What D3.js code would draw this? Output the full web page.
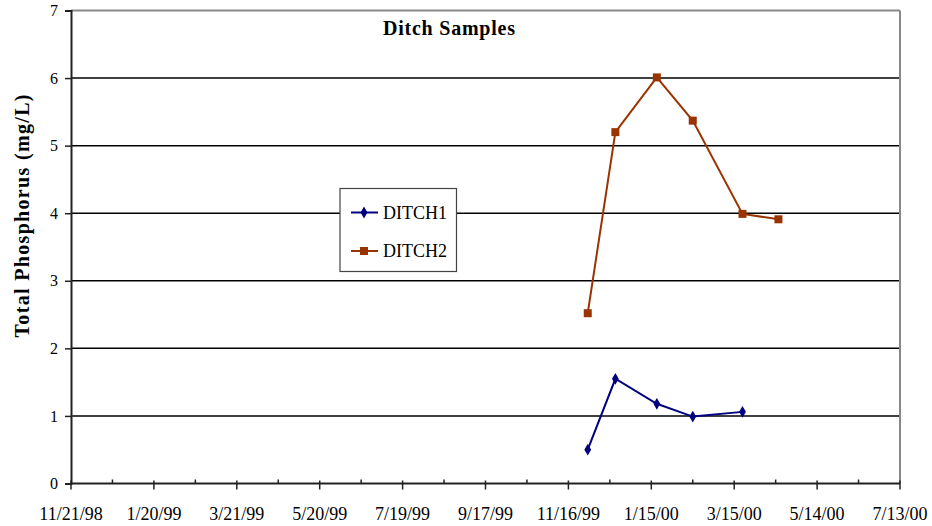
<!DOCTYPE html>
<html><head><meta charset="utf-8">
<script src="https://cdn.jsdelivr.net/npm/d3@7"></script>
<style>body{margin:0;background:#fff}svg{display:block}</style>
</head><body><svg id="c" width="932" height="526"></svg>
<script>
const title = "Ditch Samples";
const yTitle = "Total Phosphorus (mg/L)";
const seriesNames = ["DITCH1", "DITCH2"];
const ditch1Dates = ["1999-11-30","1999-12-20","2000-01-19","2000-02-14","2000-03-21"];
const ditch1Values = [0.50, 1.55, 1.18, 0.99, 1.06];
const ditch2Dates = ["1999-11-30","1999-12-20","2000-01-19","2000-02-14","2000-03-21","2000-04-16"];
const ditch2Values = [2.52, 5.20, 6.01, 5.37, 3.99, 3.91];
const xStart = "1998-11-21", xEnd = "2000-07-13";
const yTicks = [0,1,2,3,4,5,6,7];

const FONT = "'Liberation Serif', 'Times New Roman', Times, serif";
const parse = d3.utcParse("%Y-%m-%d");
const fmt = d => (d.getUTCMonth()+1) + "/" + d.getUTCDate() + "/" + String(d.getUTCFullYear()).slice(2);
const svg = d3.select("#c").style("font-family", FONT);
const L = 71, R = 900, T = 10.5, B = 483.5;
const x = d3.scaleUtc().domain([parse(xStart), parse(xEnd)]).range([L, R]);
const y = d3.scaleLinear().domain([0, 7]).range([B, T]);

// gridlines
svg.append("g").selectAll("line").data(yTicks.filter(v => v > 0 && v < 7)).join("line")
  .attr("x1", L).attr("x2", R).attr("y1", d => y(d)).attr("y2", d => y(d))
  .attr("stroke", "#000").attr("stroke-width", 1.5);
// top & right border
svg.append("line").attr("x1", L).attr("x2", R).attr("y1", y(7)).attr("y2", y(7)).attr("stroke", "#888").attr("stroke-width", 2);
svg.append("line").attr("x1", R).attr("x2", R).attr("y1", y(7)).attr("y2", B).attr("stroke", "#888").attr("stroke-width", 2);

// y axis
const yAx = svg.append("g").attr("transform", `translate(${L},0)`)
  .call(d3.axisLeft(y).tickValues(yTicks).tickSize(6).tickPadding(7).tickFormat(d3.format("d")));
yAx.attr("font-family", null).attr("font-size", null);
yAx.select(".domain").attr("stroke", "#222").attr("stroke-width", 2);
yAx.selectAll(".tick line").attr("stroke", "#222").attr("stroke-width", 1.5);
yAx.selectAll("text").attr("font-size", 16).attr("fill", "#000").style("font-family", FONT);

// x axis ticks every 30 days
const t0 = parse(xStart);
const allTicks = d3.range(0, 21).map(i => d3.utcDay.offset(t0, i * 30));
const majors = allTicks.filter((d, i) => i % 2 === 0);
const minors = allTicks.filter((d, i) => i % 2 === 1);
svg.append("line").attr("x1", L).attr("x2", R).attr("y1", B).attr("y2", B).attr("stroke", "#222").attr("stroke-width", 2);
svg.append("g").selectAll("line").data(majors).join("line")
  .attr("x1", d => x(d)).attr("x2", d => x(d)).attr("y1", B - 3).attr("y2", B + 6)
  .attr("stroke", "#222").attr("stroke-width", 1.5);
svg.append("g").selectAll("line").data(minors).join("line")
  .attr("x1", d => x(d)).attr("x2", d => x(d)).attr("y1", B - 4).attr("y2", B)
  .attr("stroke", "#222").attr("stroke-width", 1.5);
svg.append("g").selectAll("text").data(majors).join("text")
  .attr("x", d => x(d)).attr("y", 520).attr("text-anchor", "middle")
  .attr("font-size", 18).style("font-family", FONT).text(fmt);

// titles
svg.append("text").attr("x", 449).attr("y", 35).attr("text-anchor", "middle")
  .attr("font-size", 20).attr("font-weight", "bold").attr("textLength", 132).attr("lengthAdjust", "spacing")
  .style("font-family", FONT).text(title);
svg.append("text").attr("transform", "translate(29,216) rotate(-90)").attr("text-anchor", "middle")
  .attr("font-size", 20).attr("font-weight", "bold").attr("textLength", 243).attr("lengthAdjust", "spacing")
  .style("font-family", FONT).text(yTitle);

// series
const colors = ["#000080", "#993300"];
const s1 = ditch1Dates.map((d, i) => ({ d: parse(d), v: ditch1Values[i] }));
const s2 = ditch2Dates.map((d, i) => ({ d: parse(d), v: ditch2Values[i] }));
const line = d3.line().x(p => x(p.d)).y(p => y(p.v));
const diamond = d3.symbol().type(d3.symbolDiamond).size(40);
const square = d3.symbol().type(d3.symbolSquare).size(64);

function drawSeries(data, color, sym) {
  svg.append("path").datum(data).attr("d", line).attr("fill", "none").attr("stroke", color).attr("stroke-width", 2);
  svg.append("g").selectAll("path").data(data).join("path")
    .attr("transform", p => `translate(${x(p.d)},${y(p.v)})`).attr("d", sym).attr("fill", color);
}
drawSeries(s1, colors[0], diamond);
drawSeries(s2, colors[1], square);

// legend
const lg = svg.append("g");
lg.append("rect").attr("x", 340).attr("y", 188.5).attr("width", 116.5).attr("height", 83)
  .attr("fill", "#fff").attr("stroke", "#444").attr("stroke-width", 1.2);
const legendSyms = [diamond, square];
seriesNames.forEach((n, i) => {
  const yy = 212.5 + i * 38.5;
  lg.append("line").attr("x1", 351).attr("x2", 378).attr("y1", yy).attr("y2", yy).attr("stroke", colors[i]).attr("stroke-width", 2);
  lg.append("path").attr("transform", `translate(364,${yy})`).attr("d", legendSyms[i]).attr("fill", colors[i]);
  lg.append("text").attr("x", 383).attr("y", yy + 6).attr("font-size", 18).style("font-family", FONT).text(n);
});
</script></body></html>
